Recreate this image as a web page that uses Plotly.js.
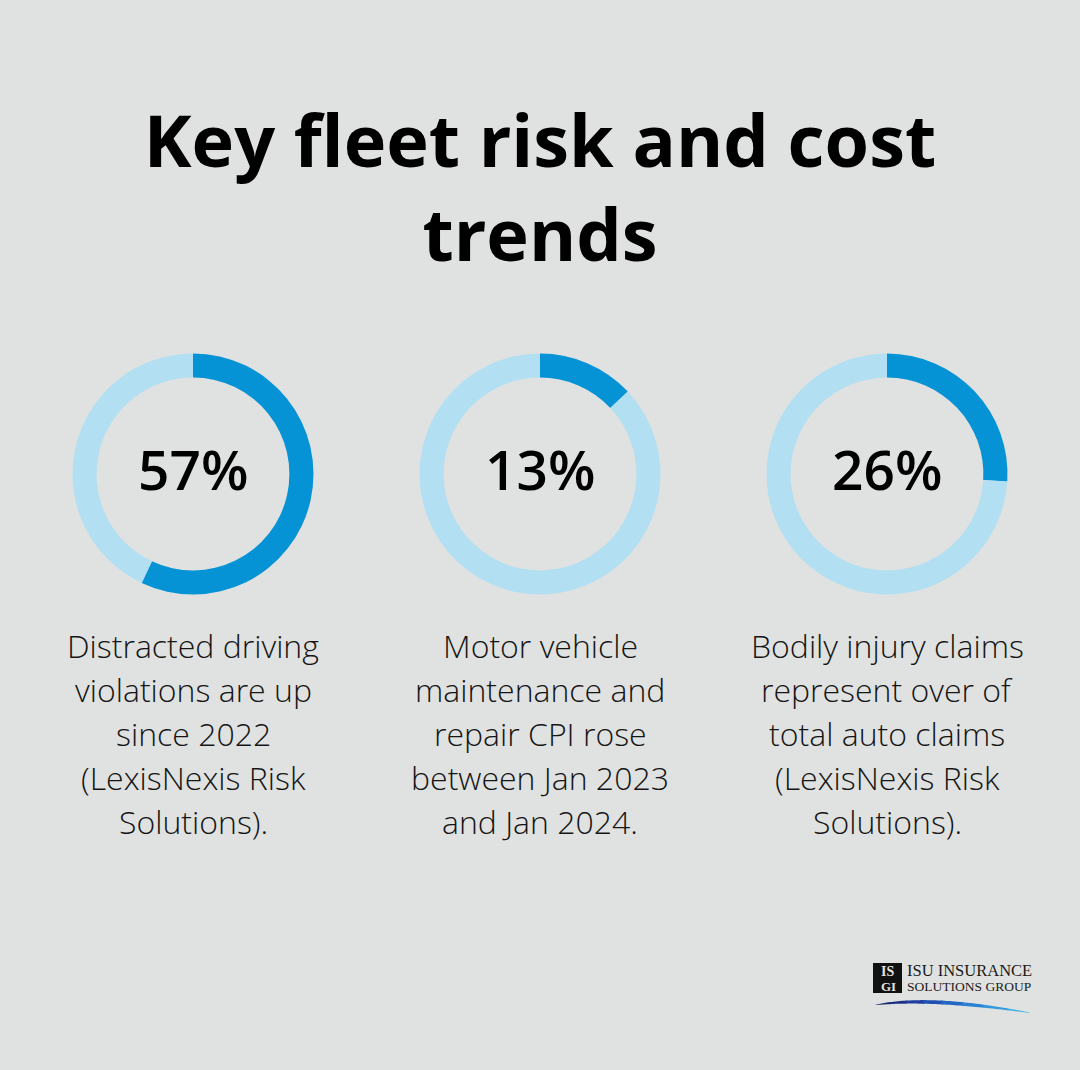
<!DOCTYPE html>
<html>
<head>
<meta charset="utf-8">
<script src="https://cdn.plot.ly/plotly-3.0.1.min.js"></script>
<style>
  html, body { margin: 0; padding: 0; background: #e0e2e1; }
  #chart { width: 1080px; height: 1070px; }
</style>
</head>
<body>
<div id="chart"></div>
<script>
// Headline figures for the three rings
const stats = [57, 13, 26];
const statLabels = ['57%', '13%', '26%'];
const descriptions = [
  ['Distracted driving', 'violations are up', 'since 2022', '(LexisNexis Risk', 'Solutions).'],
  ['Motor vehicle', 'maintenance and', 'repair CPI rose', 'between Jan 2023', 'and Jan 2024.'],
  ['Bodily injury claims', 'represent over of', 'total auto claims', '(LexisNexis Risk', 'Solutions).']
];
const chartTitle = 'Key fleet risk and cost<br>trends';

const W = 1080, H = 1070;
const BG = '#e0e2e1';
const DARK = '#0593d6';
const LIGHT = '#b3dff2';

const centersX = [193, 540, 887];   // ring centres, px
const centerY = 474;
const outerR = 120.5;

const px = (x) => x / W;
const py = (y) => 1 - y / H;

const traces = stats.map((v, i) => ({
  type: 'pie',
  values: [v, 100 - v],
  labels: ['share', 'rest'],
  hole: 0.8,
  sort: false,
  direction: 'clockwise',
  rotation: 0,
  textinfo: 'none',
  hoverinfo: 'skip',
  showlegend: false,
  marker: { colors: [DARK, LIGHT], line: { width: 0 } },
  domain: {
    x: [px(centersX[i] - outerR), px(centersX[i] + outerR)],
    y: [py(centerY + outerR), py(centerY - outerR)]
  }
}));

const annotations = [];
statLabels.forEach((t, i) => {
  annotations.push({
    text: t, x: px(centersX[i]), y: py(centerY - 6),
    xref: 'paper', yref: 'paper', xanchor: 'center', yanchor: 'middle',
    showarrow: false,
    font: { family: 'Open Sans', size: 55, color: '#000000', weight: 600 }
  });
});
const lineMids = [645, 689, 733, 777, 821];
descriptions.forEach((lines, i) => {
  lines.forEach((ln, j) => {
    annotations.push({
      text: ln, x: px(centersX[i]), y: py(lineMids[j]),
      xref: 'paper', yref: 'paper', xanchor: 'center', yanchor: 'middle',
      showarrow: false,
      font: { family: 'Open Sans', size: 32, color: '#151515', weight: 300 }
    });
  });
});

// Company mark: wordmark text
annotations.push({
  text: 'ISU INSURANCE', x: px(905), y: py(970),
  xref: 'paper', yref: 'paper', xanchor: 'left', yanchor: 'middle', showarrow: false,
  font: { family: 'Liberation Serif', size: 16.5, color: '#1a1a1a' }
});
annotations.push({
  text: 'SOLUTIONS GROUP', x: px(905), y: py(986),
  xref: 'paper', yref: 'paper', xanchor: 'left', yanchor: 'middle', showarrow: false,
  font: { family: 'Liberation Serif', size: 13.5, color: '#1a1a1a' }
});
annotations.push({
  text: '<b>IS</b>', x: px(887), y: py(971),
  xref: 'paper', yref: 'paper', xanchor: 'center', yanchor: 'middle', showarrow: false,
  font: { family: 'Liberation Serif', size: 14, color: '#e0e2e1' }
});
annotations.push({
  text: '<b>GI</b>', x: px(888), y: py(986),
  xref: 'paper', yref: 'paper', xanchor: 'center', yanchor: 'middle', showarrow: false,
  font: { family: 'Liberation Serif', size: 13, color: '#e0e2e1' }
});

// swoosh under the wordmark: a tapered curve split into bands, navy to sky blue
const swooshColors = ['#1d2470', '#1e2f86', '#1f3d9c', '#2050b2', '#2466c4', '#2a80d2', '#3399dc', '#3cb0e6'];
const P0 = [875, 1005], P1 = [930, 996], P2 = [1031, 1013];
const bez = (t) => [
  (1 - t) * (1 - t) * P0[0] + 2 * (1 - t) * t * P1[0] + t * t * P2[0],
  (1 - t) * (1 - t) * P0[1] + 2 * (1 - t) * t * P1[1] + t * t * P2[1]
];
const thick = (t) => 3.8 * Math.pow(Math.sin(Math.PI * t), 0.7);
const swoosh = swooshColors.map((c, k) => {
  const n = swooshColors.length;
  const t0 = k / n, t1 = (k + 1) / n + (k < n - 1 ? 0.01 : 0);
  const ts = [];
  for (let s = 0; s <= 8; s++) ts.push(t0 + (t1 - t0) * s / 8);
  const top = ts.map((t) => { const p = bez(t); return [p[0], p[1] - thick(t) / 2]; });
  const bot = ts.map((t) => { const p = bez(t); return [p[0], p[1] + thick(t) / 2]; }).reverse();
  const pts = top.concat(bot);
  const d = pts.map((p, m) => `${m ? 'L' : 'M'} ${px(p[0])} ${py(p[1])}`).join(' ') + ' Z';
  return { type: 'path', xref: 'paper', yref: 'paper', path: d, fillcolor: c, line: { width: 0 } };
});

const shapes = [
  { type: 'rect', xref: 'paper', yref: 'paper', x0: px(873), x1: px(902), y0: py(993), y1: py(963),
    fillcolor: '#111111', line: { width: 0 }, layer: 'below' }
].concat(swoosh);

const layout = {
  width: W, height: H,
  margin: { l: 0, r: 0, t: 0, b: 0 },
  paper_bgcolor: BG, plot_bgcolor: BG,
  title: {
    text: chartTitle,
    x: 0.5, xanchor: 'center',
    y: 1 - 167 / H, yanchor: 'middle', yref: 'container',
    font: { family: 'Open Sans', size: 72, color: '#000000', weight: 700 }
  },
  annotations: annotations,
  shapes: shapes
};

Plotly.newPlot('chart', traces, layout, { displayModeBar: false, staticPlot: true });
</script>
</body>
</html>
